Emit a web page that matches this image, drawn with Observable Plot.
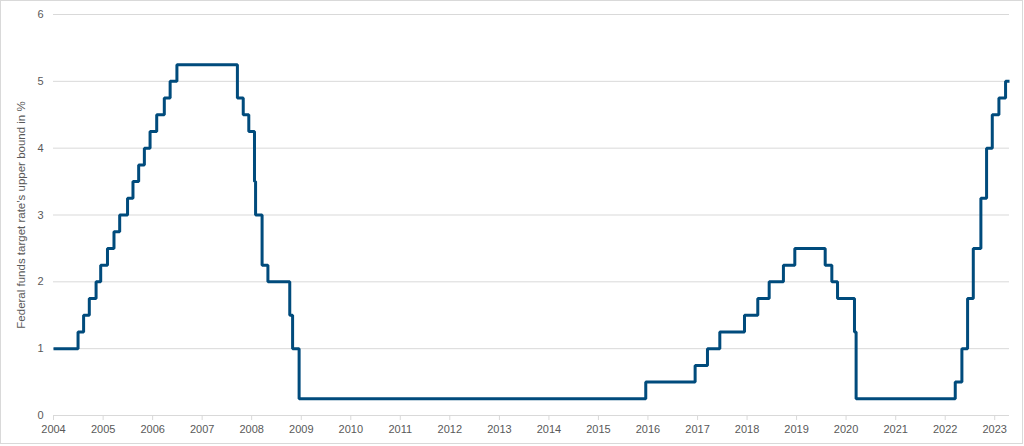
<!DOCTYPE html>
<html>
<head>
<meta charset="utf-8">
<script src="https://cdn.jsdelivr.net/npm/d3@7"></script>
<script src="https://cdn.jsdelivr.net/npm/@observablehq/plot@0.6"></script>
<style>
  html, body { margin: 0; padding: 0; background: #fff; }
  #wrap { position: relative; width: 1024px; height: 446px; overflow: hidden; }
  #frame { position: absolute; left: 0; top: 0; width: 1021px; height: 442px; border: 1px solid #d9d9d9; pointer-events: none; }
</style>
</head>
<body>
<div id="wrap"><div id="frame"></div></div>
<script>
// Effective dates of changes to the federal funds target rate (upper bound)
const changeDates = [
  "2004-01-01","2004-06-30","2004-08-10","2004-09-21","2004-11-10","2004-12-14",
  "2005-02-02","2005-03-22","2005-05-03","2005-06-30","2005-08-09","2005-09-20",
  "2005-11-01","2005-12-13","2006-01-31","2006-03-28","2006-05-10","2006-06-29",
  "2007-09-18","2007-10-31","2007-12-11","2008-01-22","2008-01-30","2008-03-18",
  "2008-04-30","2008-10-08","2008-10-29","2008-12-16","2015-12-16","2016-12-14",
  "2017-03-15","2017-06-14","2017-12-13","2018-03-21","2018-06-13","2018-09-26",
  "2018-12-19","2019-07-31","2019-09-18","2019-10-30","2020-03-03","2020-03-15",
  "2022-03-16","2022-05-04","2022-06-15","2022-07-27","2022-09-21","2022-11-02",
  "2022-12-14","2023-02-01","2023-03-22","2023-04-20"
];
const upperBound = [
  1.00,1.25,1.50,1.75,2.00,2.25,
  2.50,2.75,3.00,3.25,3.50,3.75,
  4.00,4.25,4.50,4.75,5.00,5.25,
  4.75,4.50,4.25,3.50,3.00,2.25,
  2.00,1.50,1.00,0.25,0.50,0.75,
  1.00,1.25,1.50,1.75,2.00,2.25,
  2.50,2.25,2.00,1.75,1.25,0.25,
  0.50,1.00,1.75,2.50,3.25,4.00,
  4.50,4.75,5.00,5.00
];
const yTicks = [0, 1, 2, 3, 4, 5, 6];
const xTickYears = d3.range(2004, 2024);
const yLabel = "Federal funds target rate\u2019s upper bound in %";

const data = changeDates.map((d, i) => ({date: new Date(d + "T00:00:00Z"), rate: upperBound[i]}));
const xTicks = xTickYears.map(y => new Date(Date.UTC(y, 0, 1)));

const chart = Plot.plot({
  width: 1024,
  height: 446,
  marginLeft: 53,
  marginRight: 15,
  marginTop: 14,
  marginBottom: 31,
  style: {fontFamily: "'Liberation Sans', Arial, sans-serif", fontSize: "11px", color: "#595959", background: "transparent"},
  x: {type: "utc", domain: [data[0].date, data[data.length - 1].date]},
  y: {domain: [0, 6]},
  marks: [
    Plot.gridY(yTicks, {stroke: "#d9d9d9", strokeOpacity: 1, strokeWidth: 1}),
    Plot.axisY(yTicks, {tickSize: 0, tickPadding: 10, tickFormat: d3.format("d"), label: null, fill: "#595959"}),
    Plot.axisX(xTicks, {tickSize: 5, tickPadding: 5, tickFormat: "%Y", label: null, stroke: "#d9d9d9", fill: "#595959"}),
    Plot.line(data, {x: "date", y: "rate", curve: "step-after", stroke: "#004b7c", strokeWidth: 3, strokeLinejoin: "miter", strokeLinecap: "butt"}),
    Plot.text([yLabel], {frameAnchor: "left", dx: -32, rotate: -90, textAnchor: "middle", fill: "#595959", fontSize: 11.5, text: d => d})
  ]
});
document.getElementById("wrap").prepend(chart);
</script>
</body>
</html>
